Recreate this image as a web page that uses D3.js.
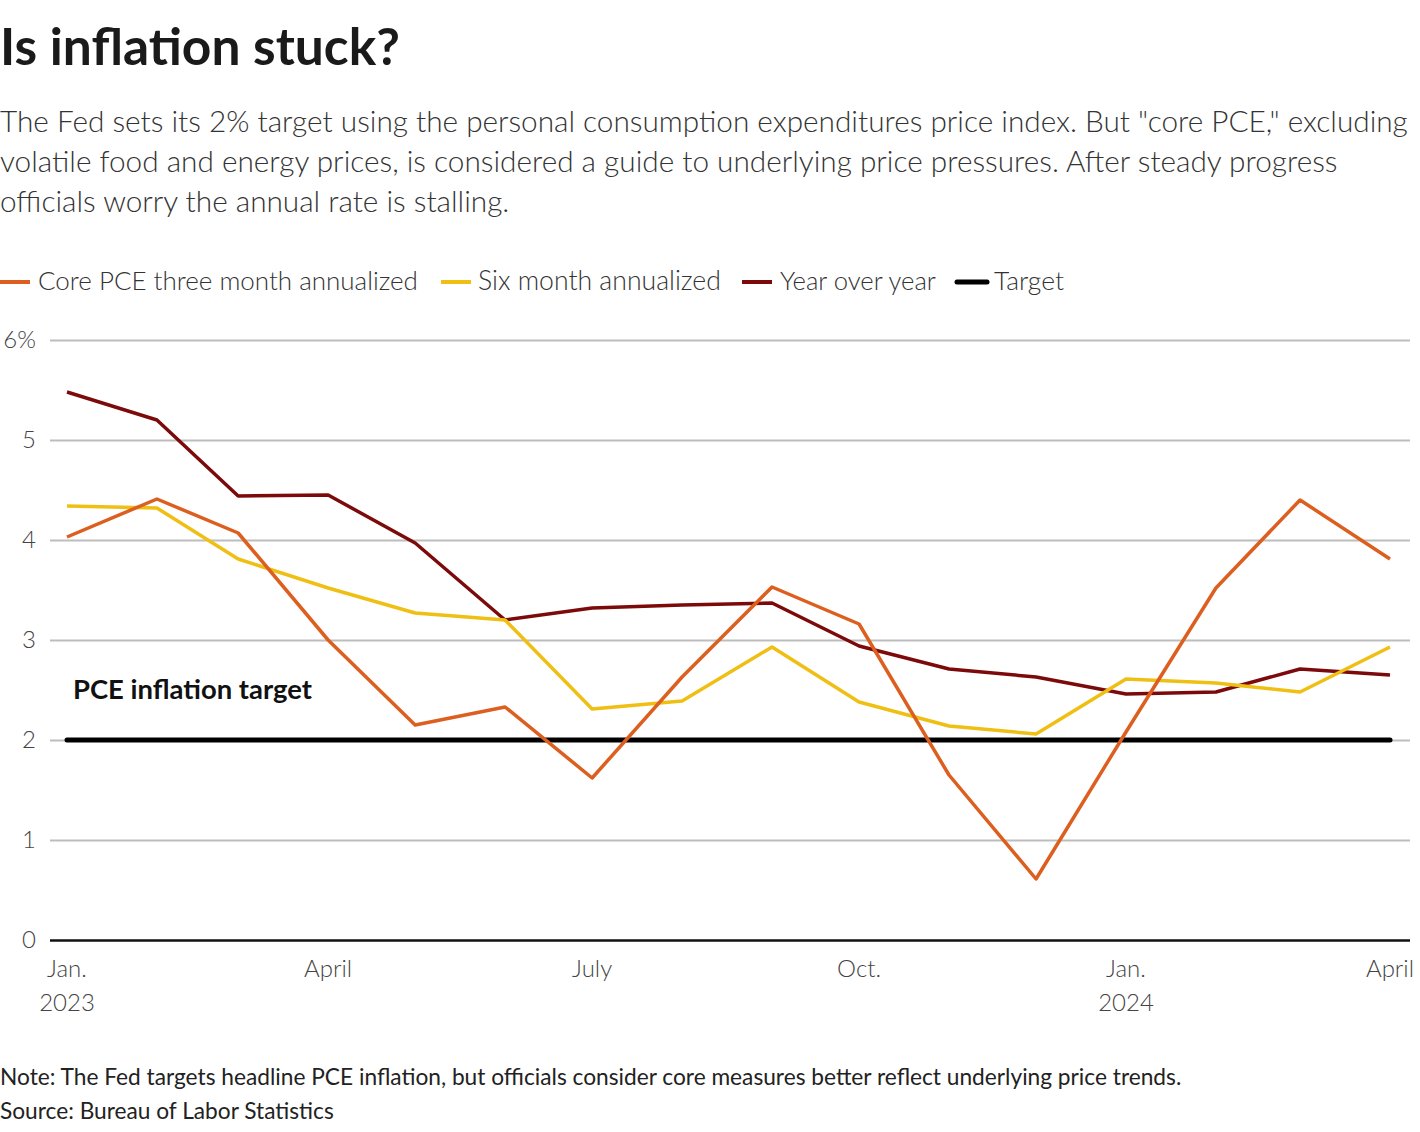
<!DOCTYPE html>
<html><head><meta charset="utf-8">
<script src="https://cdn.jsdelivr.net/npm/d3@7"></script>
<style>
body{margin:0;background:#fff;}
svg{display:block;font-family:Lato,"Open Sans",sans-serif;}
</style></head>
<body><svg id="c" width="1420" height="1132"></svg>
<script>
const months = ["2023-01","2023-02","2023-03","2023-04","2023-05","2023-06","2023-07","2023-08","2023-09","2023-10","2023-11","2023-12","2024-01","2024-02","2024-03","2024-04"];
const threeMonth = [4.03,4.41,4.07,3.00,2.15,2.33,1.62,2.63,3.53,3.16,1.65,0.61,2.08,3.52,4.40,3.81];
const sixMonth   = [4.34,4.32,3.81,3.52,3.27,3.20,2.31,2.39,2.93,2.38,2.14,2.06,2.61,2.57,2.48,2.93];
const yearOverYear = [5.48,5.20,4.44,4.45,3.97,3.20,3.32,3.35,3.37,2.94,2.71,2.63,2.46,2.48,2.71,2.65];
const targetValue = 2;
const yTicks = [0,1,2,3,4,5,6];
const xTickDates = ["2023-01","2023-04","2023-07","2023-10","2024-01","2024-04"];
const xTickLabels = [["Jan.","2023"],["April"],["July"],["Oct."],["Jan.","2024"],["April"]];
const legendItems = ["Core PCE three month annualized","Six month annualized","Year over year","Target"];
const colors = ["#dd5f1f","#efbf14","#7c0a0a","#000000"];

const parse = d3.timeParse("%Y-%m");
const dates = months.map(parse);
const svg = d3.select("#c");

function fit(sel, w){ // scale font-size so text spans width w
  const n = sel.node(); const fs = parseFloat(sel.attr("font-size"));
  const cw = n.getComputedTextLength(); sel.attr("font-size", fs*w/cw);
}

// Title
fit(svg.append("text").attr("x",0).attr("y",65).attr("font-size",48).attr("font-weight",700).attr("fill","#1a1a1a").text("Is inflation stuck?"),400);
const sub = ["The Fed sets its 2% target using the personal consumption expenditures price index. But \"core PCE,\" excluding",
 "volatile food and energy prices, is considered a guide to underlying price pressures. After steady progress",
 "officials worry the annual rate is stalling."];
const s0 = svg.append("text").attr("x",0).attr("y",132).attr("font-size",29).attr("font-weight",300).attr("fill","#333").text(sub[0]);
fit(s0,1408);
const sfs = s0.attr("font-size");
sub.slice(1).forEach((t,i)=>svg.append("text").attr("x",0).attr("y",172+40*i).attr("font-size",sfs).attr("font-weight",300).attr("fill","#333").text(t));

// Legend
const legX = [[0,38],[441,478],[742,780],[957,994]];
const legW = [380,243,156,70];
legendItems.forEach((t,i)=>{
  svg.append("line").attr("x1",legX[i][0]).attr("x2",legX[i][0]+30).attr("y1",282).attr("y2",282)
    .attr("stroke",colors[i]).attr("stroke-width",i==3?5:4).attr("stroke-linecap",i==3?"round":"butt");
  const tx = svg.append("text").attr("x",legX[i][1]).attr("y",290).attr("font-size",26).attr("font-weight",300).attr("fill","#333").text(t);
  fit(tx,legW[i]);
});

// Scales
const x = d3.scaleTime().domain([dates[0], dates[dates.length-1]]).range([67,1390]);
const y = d3.scaleLinear().domain([0,6]).range([940,340]);

// Grid
const yAxis = d3.axisLeft(y).tickValues(yTicks).tickSize(-1360).tickFormat(d=>d==6?"6%":d);
const gy = svg.append("g").attr("transform","translate(50,0)").call(yAxis);
gy.select(".domain").remove();
gy.selectAll(".tick line").attr("stroke","#bdbdbd").attr("stroke-width",2);
gy.selectAll(".tick text").attr("x",-14).attr("dy","0.32em").attr("font-size",24).attr("font-weight",300).attr("fill","#444").attr("font-family","Lato,sans-serif");
gy.selectAll(".tick").filter(d=>d===0).select("line").attr("stroke","#111").attr("stroke-width",2.5);

// X axis labels
const xa = svg.append("g");
xTickDates.forEach((d,i)=>{
  const t = xa.append("text").attr("x",x(parse(d))).attr("y",977).attr("text-anchor","middle").attr("font-size",24).attr("font-weight",300).attr("fill","#444");
  xTickLabels[i].forEach((l,j)=>t.append("tspan").attr("x",x(parse(d))).attr("dy",j?34:0).text(l));
});

// Target line
svg.append("line").attr("x1",x(dates[0])).attr("x2",x(dates[dates.length-1])).attr("y1",y(targetValue)).attr("y2",y(targetValue))
  .attr("stroke","#000").attr("stroke-width",5).attr("stroke-linecap","round");
fit(svg.append("text").attr("x",73).attr("y",699).attr("font-size",25).attr("font-weight",700).attr("fill","#111").text("PCE inflation target"),239);

// Lines
const line = d3.line().x((d,i)=>x(dates[i])).y(d=>y(d));
[[yearOverYear,2],[sixMonth,1],[threeMonth,0]].forEach(([s,c])=>{
  svg.append("path").datum(s).attr("d",line).attr("fill","none").attr("stroke",colors[c]).attr("stroke-width",3.5).attr("stroke-linejoin","round");
});

// Notes
fit(svg.append("text").attr("x",0).attr("y",1085).attr("font-size",21).attr("fill","#222").text("Note: The Fed targets headline PCE inflation, but officials consider core measures better reflect underlying price trends."),1182);
fit(svg.append("text").attr("x",0).attr("y",1119).attr("font-size",21).attr("fill","#222").text("Source: Bureau of Labor Statistics"),334);
</script></body></html>
